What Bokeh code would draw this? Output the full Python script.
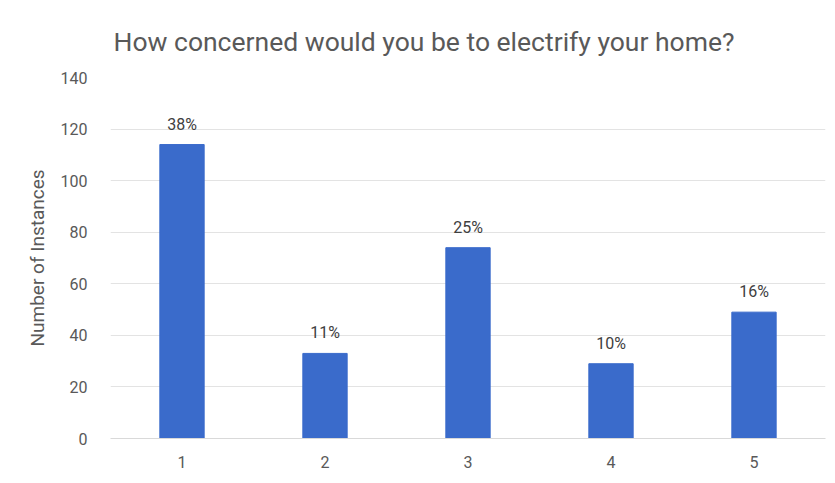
from bokeh.plotting import figure
from bokeh.models import ColumnDataSource, LabelSet, FixedTicker, Range1d, Title
from bokeh.core.properties import value
from bokeh.embed import file_html
from bokeh.resources import INLINE

categories = ["1", "2", "3", "4", "5"]
counts = [114, 33, 74, 29, 49]
pct_labels = ["38%", "11%", "25%", "10%", "16%"]
y_ticks = [0, 20, 40, 60, 80, 100, 120, 140]

src = ColumnDataSource(data=dict(cat=categories, val=counts, lab=pct_labels))

p = figure(x_range=categories, y_range=Range1d(0, 140), width=835, height=483,
           output_backend="svg", toolbar_location=None,
           min_border_left=110, min_border_right=10, min_border_top=77, min_border_bottom=45)
p.outline_line_color = None
p.background_fill_color = "white"
p.border_fill_color = "white"

t = Title(text="How concerned would you be to electrify your home?", align="left",
          offset=3, text_font="Roboto", text_font_size="26.5px", text_font_style="normal",
          text_color="#595959", standoff=42)
p.add_layout(t, "above")

p.vbar(x="cat", top="val", width=0.31, source=src, fill_color="#3A6BCB", line_color="#3A6BCB")

labels = LabelSet(x="cat", y="val", text="lab", source=src, y_offset=11,
                  text_align="center", text_baseline="bottom",
                  text_font=value("Roboto"), text_font_size=value("16px"), text_color="#404040")
p.add_layout(labels)

p.yaxis.ticker = FixedTicker(ticks=y_ticks)
p.yaxis.axis_label = "Number of Instances"
p.yaxis.axis_label_text_font = "Roboto"
p.yaxis.axis_label_text_font_size = "19px"
p.yaxis.axis_label_text_font_style = "normal"
p.yaxis.axis_label_text_color = "#595959"
p.yaxis.axis_label_standoff = 9
p.yaxis.major_label_text_font = "Roboto"
p.yaxis.major_label_text_font_size = "16px"
p.yaxis.major_label_text_color = "#595959"
p.yaxis.major_label_standoff = 17
p.yaxis.axis_line_color = None
p.yaxis.major_tick_line_color = None
p.yaxis.minor_tick_line_color = None

p.xaxis.major_label_text_font = "Roboto"
p.xaxis.major_label_text_font_size = "16px"
p.xaxis.major_label_text_color = "#595959"
p.xaxis.major_label_standoff = 11
p.xaxis.axis_line_color = "#d9d9d9"
p.xaxis.major_tick_line_color = None
p.xaxis.minor_tick_line_color = None

p.xgrid.grid_line_color = None
p.ygrid.grid_line_color = "#e3e3e3"
p.ygrid.grid_line_width = 1

open("out.html", "w").write(file_html(p, INLINE))
